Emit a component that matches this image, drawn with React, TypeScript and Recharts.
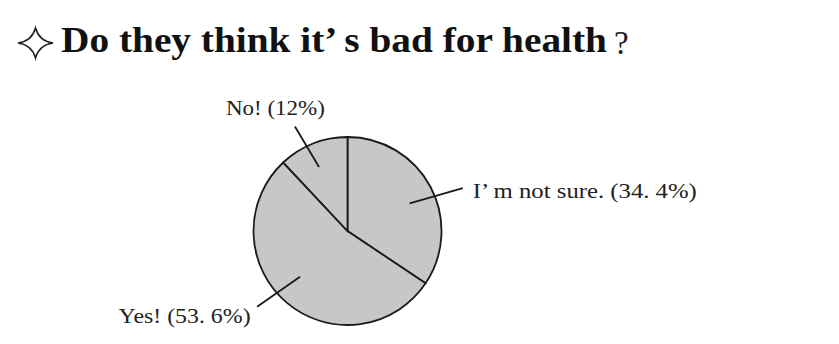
import React from "react";
import { PieChart, Pie, Cell } from "recharts";

const categories = ["I’ m not sure.", "Yes!", "No!"];
const percents = [34.4, 53.6, 12];
const valueLabels = ["(34. 4%)", "(53. 6%)", "(12%)"];
const titleText = "Do they think it’ s bad for health";

const data = categories.map((name, i) => ({ name, value: percents[i], tag: valueLabels[i] }));

// leader line layout per slice index: angles in degrees (math convention), radii in px
const leaderLayout = [
  { a1: 24, r1: 68, a2: 20.4, r2: 123, tdx: 10, tdy: 10, len: 224 },
  { a1: -136, r1: 66, a2: -140, r2: 118, tdx: -138.5, tdy: 16.5, len: 132 },
  { a1: 114, r1: 70, a2: 116.7, r2: 117, tdx: -69, tdy: -11.5, len: 99 },
];

const RAD = Math.PI / 180;

const renderLabel = (props: any) => {
  const { cx, cy, index, payload } = props;
  const L = leaderLayout[index];
  const x1 = cx + L.r1 * Math.cos(L.a1 * RAD);
  const y1 = cy - L.r1 * Math.sin(L.a1 * RAD);
  const x2 = cx + L.r2 * Math.cos(L.a2 * RAD);
  const y2 = cy - L.r2 * Math.sin(L.a2 * RAD);
  return (
    <g key={`lbl-${index}`}>
      <line x1={x1} y1={y1} x2={x2} y2={y2} stroke="#1a1a1a" strokeWidth={1.8} />
      <text
        x={x2 + L.tdx}
        y={y2 + L.tdy}
        textAnchor="start"
        textLength={L.len}
        lengthAdjust="spacingAndGlyphs"
        fontFamily="'Liberation Serif', 'Times New Roman', serif"
        fontSize={22}
        fill="#222"
      >
        {payload.name + " " + payload.tag}
      </text>
    </g>
  );
};

export default function App() {
  return (
    <div style={{ position: "absolute", left: 0, top: 0, width: 839, height: 344, background: "#fff" }}>
      <svg width={839} height={70} style={{ position: "absolute", left: 0, top: 0 }}>
        <path
          d="M35.5 28 Q39 41 53 43 Q39 45 35.5 58 Q32 45 18 43 Q32 41 35.5 28 Z"
          fill="none"
          stroke="#222"
          strokeWidth={1.6}
        />
        <text
          x={61}
          y={52}
          textLength={546}
          lengthAdjust="spacingAndGlyphs"
          fontFamily="'Liberation Serif', 'Times New Roman', serif"
          fontWeight="bold"
          fontSize={35}
          fill="#111"
        >
          {titleText}
        </text>
        <text
          x={614}
          y={54}
          fontFamily="'Liberation Serif', 'Times New Roman', serif"
          fontSize={33}
          fill="#222"
        >
          ?
        </text>
      </svg>
      <div style={{ position: "absolute", left: 0, top: 0 }}>
        <PieChart width={839} height={344} margin={{ top: 0, right: 0, bottom: 0, left: 0 }}>
          <Pie
            data={data}
            dataKey="value"
            nameKey="name"
            cx={347.5}
            cy={231}
            outerRadius={94}
            startAngle={90}
            endAngle={-270}
            fill="#c8c7c5"
            stroke="#1a1a1a"
            strokeWidth={1.8}
            label={renderLabel}
            labelLine={false}
            isAnimationActive={false}
          >
            {data.map((d, i) => (
              <Cell key={i} fill="#c8c7c5" />
            ))}
          </Pie>
        </PieChart>
      </div>
    </div>
  );
}
